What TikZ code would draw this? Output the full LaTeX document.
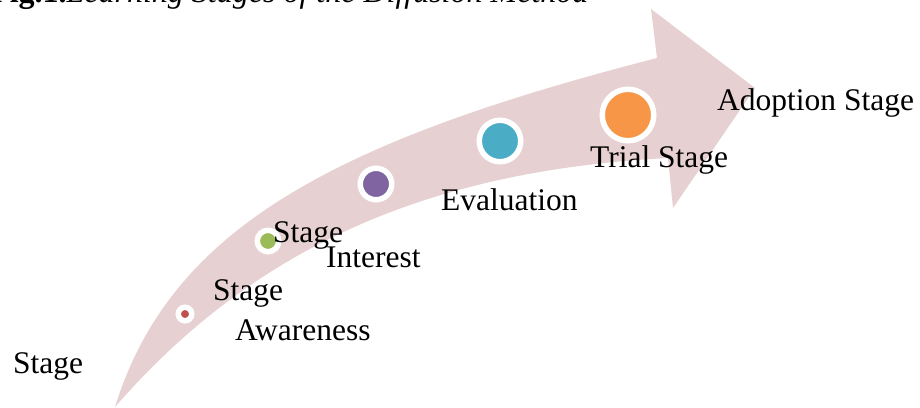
\documentclass[tikz,border=0pt]{standalone}
\usepackage{fontspec}
\setmainfont{Liberation Serif}
\begin{document}
\begin{tikzpicture}[x=1pt,y=-1pt,
  band/.style={fill=bandpink},
  stagedot/.style 2 args={circle,inner sep=0pt,fill=#1,draw=white,line width=5.5pt,minimum size=#2},
  label/.style={anchor=base west,inner sep=0pt,font=\fontsize{31.5}{31.5}\selectfont},
  caption/.style={anchor=base west,inner sep=0pt,font=\fontsize{32}{32}\selectfont}]
\definecolor{bandpink}{RGB}{231,208,209}
\definecolor{dotred}{RGB}{192,80,77}
\definecolor{dotgreen}{RGB}{155,187,89}
\definecolor{dotpurple}{RGB}{128,100,162}
\definecolor{dotteal}{RGB}{75,172,198}
\definecolor{dotorange}{RGB}{247,150,70}
\useasboundingbox (0,0) rectangle (920,407);
\clip (0,0) rectangle (920,407);

% caption, partly cut by the top edge
\node[caption] (cap) at (-10,2) {\textbf{Fig.1.}\textit{Learning Stages of the Diffusion Method}};

% curved arrow: upper edge, head, lower edge back to the tail point
\coordinate (tail) at (115,407);
\coordinate (neckTop) at (657,58);
\coordinate (barbTop) at (651,9);
\coordinate (tip) at (755,88);
\coordinate (barbBot) at (673,208);
\coordinate (neckBot) at (668,158);
\fill[band] (tail) .. controls (170,230) and (330,142) .. (neckTop)
  -- (barbTop) -- (tip) -- (barbBot) -- (neckBot)
  .. controls (440,170) and (260,240) .. (tail) -- cycle;

% stage markers
\node[stagedot={dotred}{13.5pt}] (d1) at (185,314) {};
\node[stagedot={dotgreen}{21.5pt}] (d2) at (268,241) {};
\node[stagedot={dotpurple}{31.5pt}] (d3) at (376,184) {};
\node[stagedot={dotteal}{41.5pt}] (d4) at (500,141) {};
\node[stagedot={dotorange}{51.5pt}] (d5) at (628,115) {};

% stage labels
\node[label] (t1) at (13,373) {Stage};
\node[label] (t2) at (213,300) {Stage};
\node[label] (t3) at (235,340) {Awareness};
\node[label] (t4) at (273,242) {Stage};
\node[label] (t5) at (326,267) {Interest};
\node[label] (t6) at (441,210) {Evaluation};
\node[label] (t7) at (590,167) {Trial Stage};
\node[label] (t8) at (717,110) {Adoption Stage};
\end{tikzpicture}
\end{document}
